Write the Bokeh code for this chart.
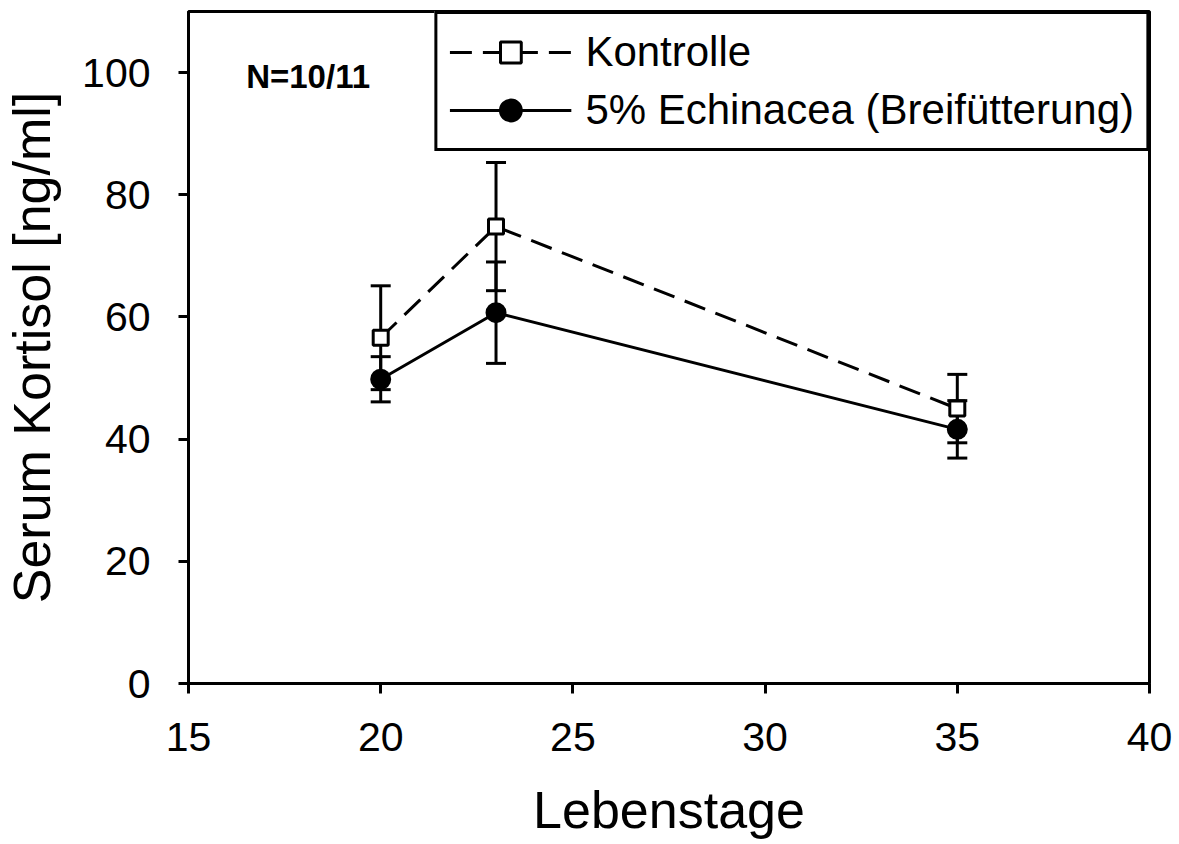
from bokeh.plotting import figure
from bokeh.models import Range1d, Whisker, TeeHead, ColumnDataSource, Legend, LegendItem, Label, FixedTicker
from bokeh.embed import file_html
from bokeh.resources import INLINE

days = [20, 23, 35]
kontrolle = [56.6, 74.8, 45.0]
kontrolle_se = [8.5, 10.5, 5.6]
echinacea = [49.8, 60.7, 41.6]
echinacea_se = [3.7, 8.3, 4.7]
x_ticks = [15, 20, 25, 30, 35, 40]
y_ticks = [0, 20, 40, 60, 80, 100]

FONT = "Liberation Sans"
LW = 3

p = figure(width=1179, height=844, output_backend="svg", toolbar_location=None,
           x_range=Range1d(15, 40), y_range=Range1d(0, 110),
           min_border_left=188, min_border_right=30, min_border_top=11, min_border_bottom=161)
p.background_fill_color = "white"
p.border_fill_color = "white"
p.grid.visible = False
p.outline_line_color = "black"
p.outline_line_alpha = 1.0
p.outline_line_width = LW

for ax in (p.xaxis[0], p.yaxis[0]):
    ax.axis_line_width = LW
    ax.axis_line_color = "black"
    ax.major_tick_line_width = LW
    ax.major_tick_line_color = "black"
    ax.major_tick_out = 10
    ax.major_tick_in = 0
    ax.minor_tick_line_color = None
    ax.major_label_text_font = FONT
    ax.major_label_text_font_size = "41px"
    ax.major_label_text_color = "black"
    ax.axis_label_text_font = FONT
    ax.axis_label_text_font_style = "normal"
    ax.axis_label_text_font_size = "52px"
    ax.axis_label_text_color = "black"

p.xaxis.ticker = FixedTicker(ticks=x_ticks)
p.yaxis.ticker = FixedTicker(ticks=y_ticks)
p.xaxis.axis_label = "Lebenstage"
p.yaxis.axis_label = "Serum Kortisol [ng/ml]"
p.xaxis.major_label_standoff = 29
p.xaxis.axis_label_standoff = 27
p.yaxis.major_label_standoff = 28
p.yaxis.axis_label_standoff = 18

def add_series(vals, se, dash, marker, fill, size):
    src = ColumnDataSource(dict(x=days, y=vals,
                                lo=[v - s for v, s in zip(vals, se)],
                                hi=[v + s for v, s in zip(vals, se)]))
    w = Whisker(source=src, base="x", lower="lo", upper="hi", line_width=LW, line_color="black",
                upper_head=TeeHead(size=20, line_width=LW, line_color="black"),
                lower_head=TeeHead(size=20, line_width=LW, line_color="black"))
    p.add_layout(w)
    ln = p.line("x", "y", source=src, line_color="black", line_width=LW, line_dash=dash)
    mk = p.scatter("x", "y", source=src, marker=marker, size=size, fill_color=fill,
                   line_color="black", line_width=LW)
    return ln, mk

l1, m1 = add_series(kontrolle, kontrolle_se, "22 11", "square", "white", 15)
l2, m2 = add_series(echinacea, echinacea_se, "solid", "circle", "black", 18)

legend = Legend(items=[LegendItem(label="Kontrolle", renderers=[l1, m1]),
                       LegendItem(label="5% Echinacea (Breifütterung)", renderers=[l2, m2])],
                location="top_right", margin=0, padding=12, spacing=6,
                glyph_width=122, glyph_height=52, label_standoff=14,
                label_text_font=FONT, label_text_font_size="42px", label_text_color="black",
                border_line_color="black", border_line_alpha=1.0, border_line_width=LW,
                background_fill_alpha=1.0)
p.add_layout(legend, "center")

p.add_layout(Label(x=16.5, y=99.3, text="N=10/11", text_font=FONT, text_font_style="bold",
                   text_font_size="33px", text_baseline="middle", text_color="black"))

open("out.html", "w").write(file_html(p, INLINE))
